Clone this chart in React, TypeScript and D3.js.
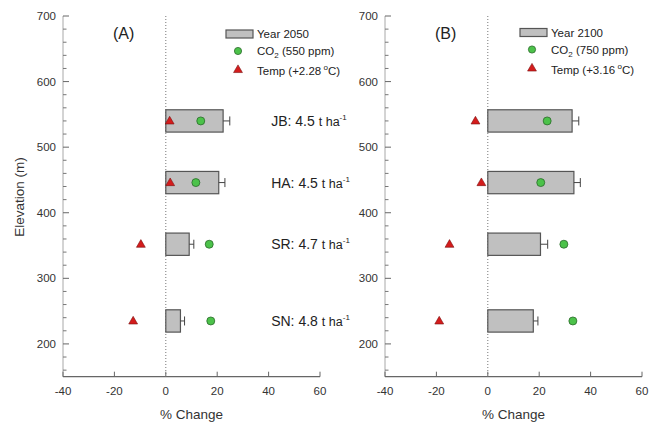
import React from "react";
import * as d3 from "d3";

// Sites ordered by elevation (m)
const sites = ["JB", "HA", "SR", "SN"];
const elevations = [540, 446, 352, 235];
const baseYields = ["4.5", "4.5", "4.7", "4.8"];

// Year 2050 scenario (% change)
const change2050 = [22.3, 20.6, 9.1, 5.7];
const err2050 = [2.6, 2.4, 1.8, 1.6];
const co2_550 = [13.6, 11.7, 16.9, 17.5];
const temp228 = [1.5, 1.7, -9.7, -12.7];

// Year 2100 scenario (% change)
const change2100 = [32.8, 33.5, 20.5, 17.7];
const err2100 = [2.6, 2.5, 2.8, 1.8];
const co2_750 = [23.1, 20.6, 29.6, 33.1];
const temp316 = [-4.8, -2.5, -14.9, -18.9];

const xTicks = [-40, -20, 0, 20, 40, 60];
const yTicks = [200, 300, 400, 500, 600, 700];

const FONT = "'Liberation Sans', Arial, Helvetica, sans-serif";
const W = 659;
const H = 424;

const yScale = d3.scaleLinear().domain([150, 700]).range([376.7, 16]);
const BAR_HALF = 17; // half bar thickness in metres

const triPath = d3.symbol(d3.symbolTriangle, 34)() as string;

type PanelProps = {
  x0: number;
  x1: number;
  tag: string;
  bars: number[];
  errs: number[];
  co2: number[];
  temp: number[];
  legYear: string;
  legCo2: string;
  legTemp: string;
  legX: number;
  legY: number;
  showSiteLabels: boolean;
};

function Panel(p: PanelProps) {
  const x = d3.scaleLinear().domain([-40, 60]).range([p.x0, p.x1]);
  const yBottom = yScale(150);
  const yTop = yScale(700);
  const minor = d3.range(160, 701, 20).filter((v) => v % 100 !== 0);
  return (
    <g>
      {/* y axis */}
      <line x1={x(-40)} x2={x(-40)} y1={yTop} y2={yBottom} stroke="#a8a8a8" strokeWidth={1} />
      {yTicks.map((t) => (
        <g key={"yt" + t}>
          <line x1={x(-40)} x2={x(-40) + 6} y1={yScale(t)} y2={yScale(t)} stroke="#666" strokeWidth={1} />
          <text
            x={x(-40) - 7}
            y={yScale(t) + 4}
            textAnchor="end"
            fontSize={11.5}
            fill="#333"
            fontFamily={FONT}
          >
            {t}
          </text>
        </g>
      ))}
      {minor.map((t) => (
        <line key={"ym" + t} x1={x(-40)} x2={x(-40) + 3.5} y1={yScale(t)} y2={yScale(t)} stroke="#777" strokeWidth={1} />
      ))}
      {/* x axis */}
      <line x1={x(-40)} x2={x(60)} y1={yBottom} y2={yBottom} stroke="#666" strokeWidth={1.2} />
      {xTicks.map((t) => (
        <g key={"xt" + t}>
          <line x1={x(t)} x2={x(t)} y1={yBottom} y2={yBottom - 5} stroke="#666" strokeWidth={1} />
          <text x={x(t)} y={yBottom + 18} textAnchor="middle" fontSize={11.5} fill="#333" fontFamily={FONT}>
            {t}
          </text>
        </g>
      ))}
      <text
        x={(x(-40) + x(60)) / 2}
        y={419}
        textAnchor="middle"
        fontSize={13.5}
        fill="#333"
        fontFamily={FONT}
      >
        % Change
      </text>
      {/* zero reference */}
      <line x1={x(0)} x2={x(0)} y1={yTop} y2={yBottom} stroke="#777" strokeWidth={1} strokeDasharray="1,2" />
      {/* panel tag */}
      <text x={x(-40) + 50} y={39} fontSize={16} fill="#222" fontFamily={FONT}>
        {p.tag}
      </text>
      {/* bars with error bars */}
      {elevations.map((e, i) => {
        const yA = yScale(e + BAR_HALF);
        const yB = yScale(e - BAR_HALF);
        const yc = yScale(e);
        const xe = x(p.bars[i] + p.errs[i]);
        return (
          <g key={"b" + i}>
            <rect
              x={x(0)}
              y={yA}
              width={x(p.bars[i]) - x(0)}
              height={yB - yA}
              fill="#c0c0c0"
              stroke="#555"
              strokeWidth={1.2}
            />
            <line x1={x(p.bars[i])} x2={xe} y1={yc} y2={yc} stroke="#444" strokeWidth={1} />
            <line x1={xe} x2={xe} y1={yc - 4.5} y2={yc + 4.5} stroke="#444" strokeWidth={1} />
          </g>
        );
      })}
      {/* temperature effect */}
      {elevations.map((e, i) => (
        <path
          key={"t" + i}
          d={triPath}
          transform={`translate(${x(p.temp[i])},${yScale(e) + 0.5})`}
          fill="#d41c1c"
          stroke="#7a1010"
          strokeWidth={0.6}
        />
      ))}
      {/* CO2 effect */}
      {elevations.map((e, i) => (
        <circle
          key={"c" + i}
          cx={x(p.co2[i])}
          cy={yScale(e)}
          r={4}
          fill="#4cc24a"
          stroke="#2b6a2b"
          strokeWidth={0.8}
        />
      ))}
      {/* site labels */}
      {p.showSiteLabels &&
        elevations.map((e, i) => (
          <text key={"s" + i} x={x(41)} y={yScale(e) + 5} fontSize={14} fill="#222" fontFamily={FONT}>
            {sites[i]}: {baseYields[i]}
            <tspan fontSize={12.5} dx={4}>t ha</tspan>
            <tspan fontSize={8} dy={-6}>-1</tspan>
          </text>
        ))}
      {/* legend */}
      <g>
        <rect x={p.legX} y={p.legY} width={27} height={8} fill="#c0c0c0" stroke="#555" strokeWidth={1.2} />
        <text x={p.legX + 31} y={p.legY + 8} fontSize={11.5} fill="#222" fontFamily={FONT}>
          {p.legYear}
        </text>
        <circle cx={p.legX + 12} cy={p.legY + 21} r={3.6} fill="#4cc24a" stroke="#2b6a2b" strokeWidth={0.8} />
        <text x={p.legX + 31} y={p.legY + 25} fontSize={11.5} fill="#222" fontFamily={FONT}>
          CO
          <tspan fontSize={8} dy={3}>2</tspan>
          <tspan dy={-3}> ({p.legCo2})</tspan>
        </text>
        <path
          d={triPath}
          transform={`translate(${p.legX + 12},${p.legY + 40})`}
          fill="#d41c1c"
          stroke="#7a1010"
          strokeWidth={0.6}
        />
        <text x={p.legX + 31} y={p.legY + 45} fontSize={11.5} fill="#222" fontFamily={FONT}>
          Temp ({p.legTemp}
          <tspan fontSize={8} dy={-5}> o</tspan>
          <tspan dy={5}>C)</tspan>
        </text>
      </g>
    </g>
  );
}

export default function App() {
  return (
    <svg
      width={W}
      height={H}
      viewBox={`0 0 ${W} ${H}`}
      style={{ position: "absolute", left: 0, top: 0, background: "#fff" }}
    >
      <rect width={W} height={H} fill="#fff" />
      <text
        transform={`translate(24,197) rotate(-90)`}
        textAnchor="middle"
        fontSize={13.5}
        fill="#333"
        fontFamily={FONT}
      >
        Elevation (m)
      </text>
      <Panel
        x0={63}
        x1={320}
        tag="(A)"
        bars={change2050}
        errs={err2050}
        co2={co2_550}
        temp={temp228}
        legYear="Year 2050"
        legCo2="550 ppm"
        legTemp="+2.28"
        legX={226}
        legY={30}
        showSiteLabels={true}
      />
      <Panel
        x0={385}
        x1={642}
        tag="(B)"
        bars={change2100}
        errs={err2100}
        co2={co2_750}
        temp={temp316}
        legYear="Year 2100"
        legCo2="750 ppm"
        legTemp="+3.16"
        legX={520}
        legY={28.5}
        showSiteLabels={false}
      />
    </svg>
  );
}
